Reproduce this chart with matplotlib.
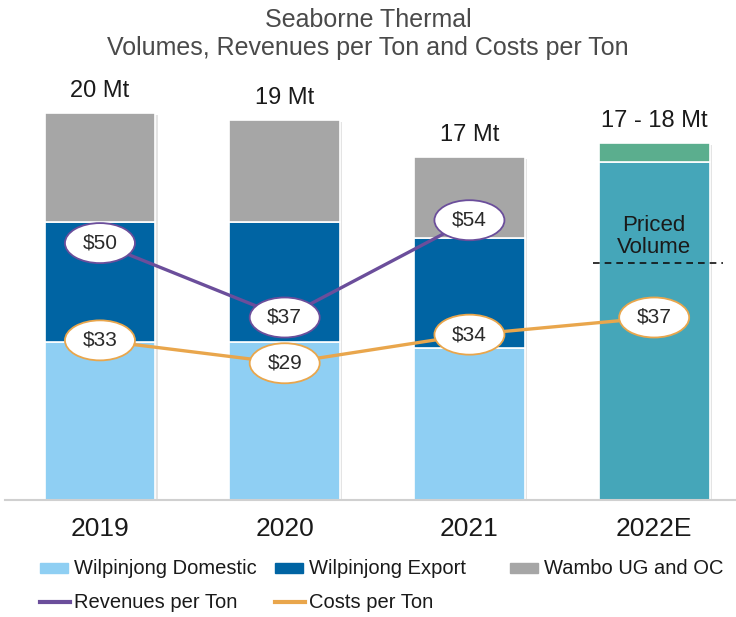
import matplotlib.pyplot as plt
from matplotlib.patches import Ellipse, Rectangle
from matplotlib.lines import Line2D

plt.rcParams['font.family'] = ['Liberation Sans Narrow', 'Liberation Sans', 'DejaVu Sans']

years = ['2019', '2020', '2021', '2022E']
volume_labels = ['20 Mt', '19 Mt', '17 Mt', '17 - 18 Mt']
# Mt
domestic = [8.17, 8.17, 7.86]
export = [6.2, 6.2, 5.68]
wambo = [5.63, 5.27, 4.19]
priced_2022 = 17.47
unpriced_2022 = 0.98
priced_line = 12.25
# $/t
revenue = [50, 37, 54]
costs = [33, 29, 34, 37]

c_dom = '#8FCFF3'
c_exp = '#0064A3'
c_wam = '#A6A6A6'
c_teal = '#45A6B9'
c_green = '#5BAE8E'
c_rev = '#6B4E9B'
c_cost = '#E9A64C'
c_txt = '#1a1a1a'

W, H = 736, 617
fig = plt.figure(figsize=(W / 100, H / 100), dpi=100)
ax = fig.add_axes([0.0068, 0.1896, 0.9932, 0.6807])
x = list(range(len(years)))
w = 0.6

# soft shadow on the right of each bar
tops = [d + e + m for d, e, m in zip(domestic, export, wambo)] + [priced_2022 + unpriced_2022]
ax.bar([i + 0.012 for i in x], [t - 0.1 for t in tops], w, color='#e4e4e4', zorder=1)

xs = x[:3]
ax.bar(xs, domestic, w, color=c_dom, edgecolor='white', linewidth=1.2, zorder=2)
ax.bar(xs, export, w, bottom=domestic, color=c_exp, edgecolor='white', linewidth=1.2, zorder=2)
bot = [d + e for d, e in zip(domestic, export)]
ax.bar(xs, wambo, w, bottom=bot, color=c_wam, edgecolor='white', linewidth=1.2, zorder=2)
ax.bar(3, priced_2022, w, color=c_teal, edgecolor='white', linewidth=1.2, zorder=2)
ax.bar(3, unpriced_2022, w, bottom=priced_2022, color=c_green, edgecolor='white', linewidth=1.2, zorder=2)

ax.plot([3 - 0.33, 3 + 0.37], [priced_line, priced_line], color='#111111', ls=(0, (4, 3)), lw=1.2, zorder=3)
ax.text(3, priced_line + 0.25, 'Priced\nVolume', ha='center', va='bottom', fontsize=16,
        color=c_txt, linespacing=1.05, zorder=3)

for i, t in enumerate(tops):
    ax.annotate(volume_labels[i], (i, t), xytext=(0, 8), textcoords='offset points',
                ha='center', va='bottom', fontsize=17, color=c_txt)

ax.set_xlim(-0.514, 3.443)
ax.set_ylim(0, 21.7)
ax.set_xticks(x)
ax.set_xticklabels(years, fontsize=19, color=c_txt)
ax.tick_params(axis='x', length=0, pad=12)
ax.set_yticks([])
for s in ['top', 'right', 'left']:
    ax.spines[s].set_visible(False)
ax.spines['bottom'].set_color('#d0d0d0')
ax.spines['bottom'].set_linewidth(1.5)

ax2 = ax.twinx()
ax2.set_position(ax.get_position())
ax2.set_ylim(5.1, 78.5)
ax2.set_xlim(ax.get_xlim())
ax2.axis('off')
ax2.plot(x[:3], revenue, color=c_rev, lw=2.4, zorder=4)
ax2.plot(x, costs, color=c_cost, lw=2.4, zorder=4)

# ellipse size: about 70 x 40 px
ew = 70 / 184.7
eh = 40 / 5.72
for vals, col in [(revenue, c_rev), (costs, c_cost)]:
    for i, v in enumerate(vals):
        ax2.add_patch(Ellipse((i, v), ew, eh, fc='white', ec=col, lw=1.3, zorder=5))
        ax2.text(i, v, f'${v}', ha='center', va='center', fontsize=15, color='#2a2a2a', zorder=6)

fig.text(0.5, 1 - 8 / H, 'Seaborne Thermal\nVolumes, Revenues per Ton and Costs per Ton',
         ha='center', va='top', fontsize=18, color='#4a4a4a', linespacing=1.2)

# legend, placed by hand in pixel positions
def fx(px):
    return px / W

def fy(py):
    return 1 - py / H

legend_patches = [(40, c_dom, 'Wilpinjong Domestic'),
                  (275, c_exp, 'Wilpinjong Export'),
                  (510, c_wam, 'Wambo UG and OC')]
for px, col, lab in legend_patches:
    fig.add_artist(Rectangle((fx(px), fy(573)), fx(28), 10 / H, color=col, transform=fig.transFigure))
    fig.text(fx(px + 34), fy(568), lab, ha='left', va='center', fontsize=14.5, color=c_txt)

legend_lines = [(40, c_rev, 'Revenues per Ton'), (275, c_cost, 'Costs per Ton')]
for px, col, lab in legend_lines:
    fig.add_artist(Line2D([fx(px), fx(px + 30)], [fy(602), fy(602)], color=col, lw=3,
                          transform=fig.transFigure))
    fig.text(fx(px + 34), fy(602), lab, ha='left', va='center', fontsize=14.5, color=c_txt)

fig.savefig('out.png', dpi=100)
